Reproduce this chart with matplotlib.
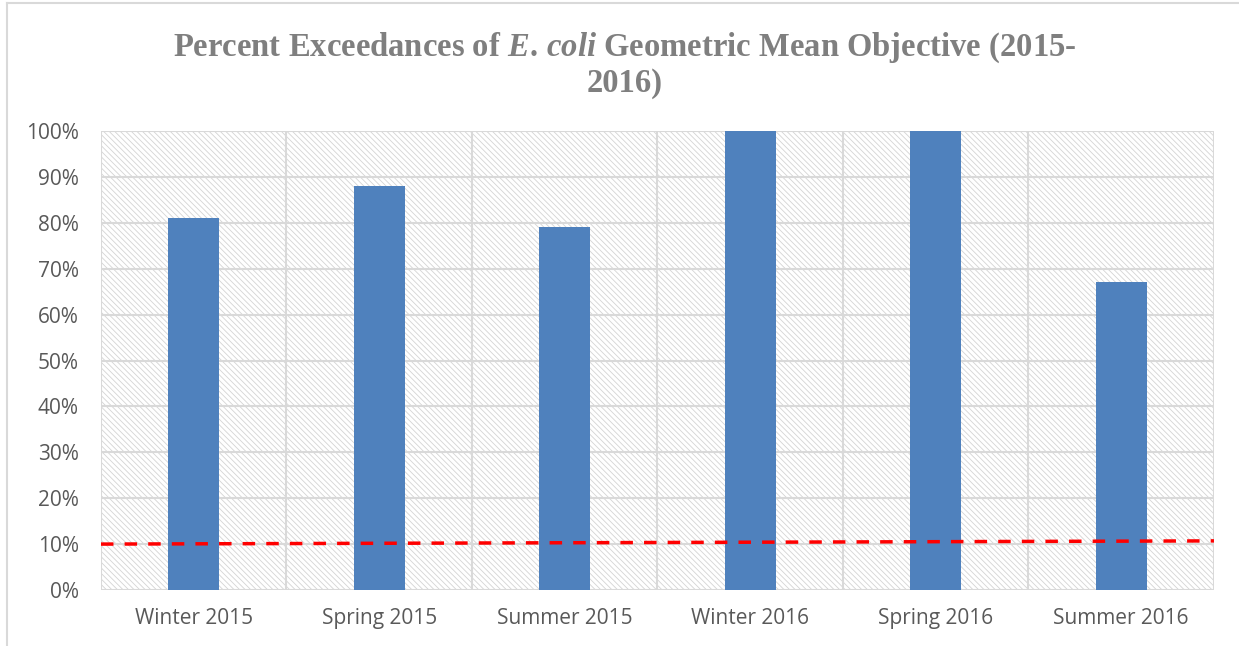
import matplotlib.pyplot as plt
import matplotlib.patches as mpatches
from matplotlib.lines import Line2D
import numpy as np

plt.rcParams['mathtext.fontset'] = 'custom'
plt.rcParams['mathtext.it'] = 'Liberation Serif:italic:bold'
plt.rcParams['mathtext.rm'] = 'Liberation Serif:bold'
plt.rcParams['hatch.color'] = '#d4d4d4'
plt.rcParams['hatch.linewidth'] = 0.6

seasons = ["Winter 2015", "Spring 2015", "Summer 2015",
           "Winter 2016", "Spring 2016", "Summer 2016"]
exceed_pct = [81, 88, 79, 100, 100, 67]
# dashed objective line, value at left and right edge of plot area
objective_pct = [10.0, 10.7]
yticks = list(range(0, 101, 10))

bar_color = "#4F81BD"
grid_color = "#d9d9d9"
text_color = "#595959"

fig = plt.figure(figsize=(12.39, 6.46), dpi=100)
ax = fig.add_axes([0.0815, 0.0867, 0.8983, 0.7105])

x = np.arange(len(seasons))
ax.set_xlim(-0.5, len(seasons) - 0.5)
ax.set_ylim(0, 100)

# hatched plot area background
bg = mpatches.Rectangle((0, 0), 1, 1, transform=ax.transAxes, facecolor="white",
                        edgecolor="#d4d4d4", hatch="\\" * 6, linewidth=0, zorder=0)
ax.add_patch(bg)

ax.bar(x, exceed_pct, width=0.275, color=bar_color, zorder=3)
ax.plot([-0.5, len(seasons) - 0.5], objective_pct, color="#ff0000", lw=2.5,
        ls=(0, (3.6, 3.2)), zorder=4, dash_capstyle="butt")

ax.set_yticks(yticks)
ax.set_yticklabels([f"{v}%" for v in yticks])
ax.set_xticks(x)
ax.set_xticklabels(seasons)
ax.set_xticks(np.arange(-0.5, len(seasons)), minor=True)
ax.tick_params(which="both", length=0)
ax.tick_params(axis="y", pad=16, labelsize=15, labelcolor=text_color)
ax.tick_params(axis="x", pad=13, labelsize=15, labelcolor=text_color)
for lbl in ax.get_xticklabels() + ax.get_yticklabels():
    lbl.set_family("Open Sans")

ax.grid(axis="y", which="major", color=grid_color, lw=1.5, zorder=1)
ax.grid(axis="x", which="minor", color=grid_color, lw=1.5, zorder=1)
ax.set_axisbelow(True)
for s in ax.spines.values():
    s.set_visible(False)

fig.text(0.504, 0.926, r"Percent Exceedances of $E.\,coli$ Geometric Mean Objective (2015-",
         ha="center", va="center", fontsize=23.5, color="#7f7f7f",
         family="Liberation Serif", weight="bold")
fig.text(0.504, 0.871, "2016)", ha="center", va="center", fontsize=23.5,
         color="#7f7f7f", family="Liberation Serif", weight="bold")

# outer chart border (top and left visible)
fig.add_artist(Line2D([0.006, 1.0], [0.995, 0.995], transform=fig.transFigure,
                      color="#d9d9d9", lw=1.5))
fig.add_artist(Line2D([0.006, 0.006], [0.0, 0.995], transform=fig.transFigure,
                      color="#d9d9d9", lw=1.5))

plt.savefig("out.png", dpi=100)
